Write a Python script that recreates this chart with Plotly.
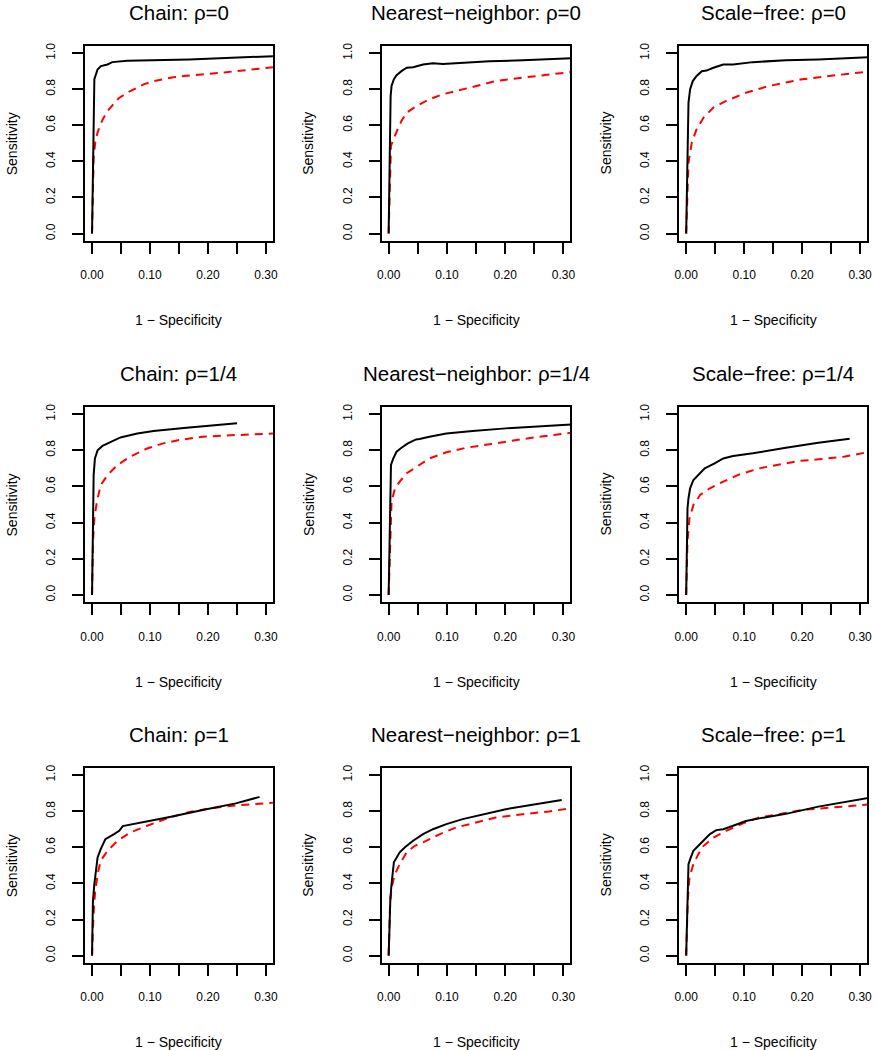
import plotly.graph_objects as go

# ---------------- data (1 - specificity, sensitivity) ----------------
# Row 1: rho = 0
chain0_solid_x = [0, 0.0015, 0.003, 0.004, 0.0095, 0.0153, 0.0266, 0.035, 0.061, 0.168, 0.32]
chain0_solid_y = [0, 0.40, 0.75, 0.855, 0.909, 0.928, 0.937, 0.950, 0.958, 0.965, 0.984]
chain0_dash_x = [0, 0.001, 0.0028, 0.006, 0.0125, 0.018, 0.027, 0.046, 0.066, 0.089, 0.106, 0.14, 0.163, 0.219, 0.32]
chain0_dash_y = [0, 0.20, 0.42, 0.52, 0.59, 0.63, 0.68, 0.75, 0.79, 0.827, 0.845, 0.866, 0.875, 0.89, 0.924]

nn0_solid_x = [0, 0.001, 0.002, 0.0034, 0.005, 0.009, 0.0136, 0.022, 0.031, 0.042, 0.059, 0.076, 0.093, 0.116, 0.173, 0.23, 0.32]
nn0_solid_y = [0, 0.30, 0.60, 0.762, 0.818, 0.855, 0.877, 0.90, 0.919, 0.922, 0.937, 0.944, 0.94, 0.945, 0.955, 0.96, 0.972]
nn0_dash_x = [0, 0.0023, 0.004, 0.008, 0.0136, 0.022, 0.031, 0.048, 0.07, 0.093, 0.116, 0.15, 0.184, 0.23, 0.275, 0.32]
nn0_dash_y = [0, 0.36, 0.486, 0.523, 0.56, 0.624, 0.67, 0.707, 0.744, 0.772, 0.79, 0.818, 0.845, 0.864, 0.882, 0.898]

sf0_solid_x = [0, 0.0011, 0.0028, 0.004, 0.0068, 0.0114, 0.018, 0.027, 0.035, 0.047, 0.064, 0.081, 0.115, 0.172, 0.228, 0.32]
sf0_solid_y = [0, 0.17, 0.54, 0.726, 0.80, 0.845, 0.873, 0.90, 0.903, 0.919, 0.937, 0.937, 0.95, 0.96, 0.965, 0.978]
sf0_dash_x = [0, 0.0023, 0.004, 0.0097, 0.018, 0.03, 0.047, 0.069, 0.103, 0.143, 0.2, 0.257, 0.32]
sf0_dash_y = [0, 0.265, 0.394, 0.505, 0.578, 0.643, 0.698, 0.735, 0.78, 0.818, 0.855, 0.877, 0.90]

# Row 2: rho = 1/4
chain14_solid_x = [0, 0.0015, 0.0028, 0.005, 0.0096, 0.018, 0.032, 0.049, 0.078, 0.106, 0.163, 0.25]
chain14_solid_y = [0, 0.517, 0.664, 0.755, 0.80, 0.824, 0.847, 0.871, 0.893, 0.906, 0.925, 0.95]
chain14_dash_x = [0, 0.0017, 0.004, 0.0085, 0.015, 0.027, 0.044, 0.066, 0.095, 0.123, 0.151, 0.191, 0.248, 0.32]
chain14_dash_y = [0, 0.296, 0.425, 0.517, 0.608, 0.664, 0.719, 0.765, 0.81, 0.838, 0.857, 0.875, 0.884, 0.893]

nn14_solid_x = [0, 0.0015, 0.003, 0.004, 0.008, 0.0136, 0.022, 0.033, 0.047, 0.053, 0.07, 0.099, 0.144, 0.201, 0.32]
nn14_solid_y = [0, 0.35, 0.68, 0.719, 0.755, 0.792, 0.814, 0.838, 0.86, 0.862, 0.875, 0.893, 0.906, 0.921, 0.944]
nn14_dash_x = [0, 0.0023, 0.005, 0.011, 0.019, 0.031, 0.048, 0.07, 0.099, 0.133, 0.173, 0.23, 0.32]
nn14_dash_y = [0, 0.296, 0.517, 0.59, 0.627, 0.673, 0.71, 0.755, 0.789, 0.814, 0.833, 0.862, 0.90]

sf14_solid_x = [0, 0.0023, 0.004, 0.0068, 0.0125, 0.021, 0.032, 0.049, 0.064, 0.081, 0.115, 0.172, 0.228, 0.282]
sf14_solid_y = [0, 0.48, 0.535, 0.59, 0.636, 0.664, 0.70, 0.728, 0.755, 0.768, 0.783, 0.814, 0.842, 0.864]
sf14_dash_x = [0, 0.0023, 0.0057, 0.0125, 0.024, 0.041, 0.064, 0.092, 0.126, 0.16, 0.194, 0.228, 0.274, 0.32]
sf14_dash_y = [0, 0.296, 0.425, 0.498, 0.553, 0.59, 0.627, 0.667, 0.70, 0.722, 0.741, 0.75, 0.765, 0.794]

# Row 3: rho = 1
chain1_solid_x = [0, 0.0015, 0.004, 0.0068, 0.0096, 0.015, 0.023, 0.038, 0.047, 0.053, 0.078, 0.106, 0.134, 0.191, 0.248, 0.289]
chain1_solid_y = [0, 0.30, 0.397, 0.489, 0.544, 0.59, 0.645, 0.673, 0.691, 0.717, 0.732, 0.75, 0.768, 0.806, 0.843, 0.879]
chain1_dash_x = [0, 0.0023, 0.005, 0.0096, 0.015, 0.027, 0.044, 0.066, 0.095, 0.134, 0.168, 0.202, 0.248, 0.32]
chain1_dash_y = [0, 0.213, 0.342, 0.452, 0.526, 0.581, 0.636, 0.682, 0.719, 0.765, 0.795, 0.815, 0.832, 0.848]

nn1_solid_x = [0, 0.0015, 0.003, 0.005, 0.009, 0.019, 0.028, 0.042, 0.059, 0.076, 0.099, 0.127, 0.161, 0.201, 0.252, 0.297]
nn1_solid_y = [0, 0.20, 0.32, 0.397, 0.517, 0.572, 0.60, 0.636, 0.673, 0.70, 0.728, 0.756, 0.783, 0.811, 0.838, 0.862]
nn1_dash_x = [0, 0.0023, 0.005, 0.011, 0.019, 0.031, 0.045, 0.059, 0.088, 0.116, 0.15, 0.184, 0.23, 0.275, 0.32]
nn1_dash_y = [0, 0.268, 0.379, 0.452, 0.507, 0.572, 0.608, 0.627, 0.673, 0.71, 0.737, 0.765, 0.783, 0.798, 0.82]

sf1_solid_x = [0, 0.0023, 0.004, 0.008, 0.0125, 0.021, 0.03, 0.041, 0.052, 0.064, 0.081, 0.103, 0.126, 0.172, 0.228, 0.274, 0.32]
sf1_solid_y = [0, 0.397, 0.507, 0.544, 0.581, 0.608, 0.64, 0.673, 0.695, 0.70, 0.719, 0.745, 0.76, 0.785, 0.825, 0.853, 0.877]
sf1_dash_x = [0, 0.0028, 0.0057, 0.0125, 0.021, 0.03, 0.047, 0.069, 0.098, 0.126, 0.16, 0.2, 0.251, 0.32]
sf1_dash_y = [0, 0.305, 0.434, 0.507, 0.562, 0.608, 0.654, 0.691, 0.733, 0.765, 0.783, 0.807, 0.82, 0.838]

panel_titles = [
    "Chain: ρ=0", "Nearest−neighbor: ρ=0", "Scale−free: ρ=0",
    "Chain: ρ=1/4", "Nearest−neighbor: ρ=1/4", "Scale−free: ρ=1/4",
    "Chain: ρ=1", "Nearest−neighbor: ρ=1", "Scale−free: ρ=1",
]
x_tick_vals = [0, 0.05, 0.10, 0.15, 0.20, 0.25, 0.30]
x_tick_text = ["0.00", "", "0.10", "", "0.20", "", "0.30"]
y_tick_vals = [0, 0.2, 0.4, 0.6, 0.8, 1.0]
y_tick_text = ["0.0", "0.2", "0.4", "0.6", "0.8", "1.0"]
x_label = "1 − Specificity"
y_label = "Sensitivity"

panels = [
    (chain0_solid_x, chain0_solid_y, chain0_dash_x, chain0_dash_y),
    (nn0_solid_x, nn0_solid_y, nn0_dash_x, nn0_dash_y),
    (sf0_solid_x, sf0_solid_y, sf0_dash_x, sf0_dash_y),
    (chain14_solid_x, chain14_solid_y, chain14_dash_x, chain14_dash_y),
    (nn14_solid_x, nn14_solid_y, nn14_dash_x, nn14_dash_y),
    (sf14_solid_x, sf14_solid_y, sf14_dash_x, sf14_dash_y),
    (chain1_solid_x, chain1_solid_y, chain1_dash_x, chain1_dash_y),
    (nn1_solid_x, nn1_solid_y, nn1_dash_x, nn1_dash_y),
    (sf1_solid_x, sf1_solid_y, sf1_dash_x, sf1_dash_y),
]

# ---------------- layout (pixel geometry) ----------------
W, H = 876, 1050
col_px = [(81, 271), (381, 572), (682, 872)]
row_px = [(43, 238.5), (405, 601), (767, 962.6)]
FONT = "Liberation Sans, Arial, Helvetica, sans-serif"

fig = go.Figure()
layout = dict(
    width=W, height=H, margin=dict(l=0, r=0, t=0, b=0),
    paper_bgcolor="white", plot_bgcolor="white", showlegend=False,
    font=dict(family=FONT, color="black", size=12),
)
annotations = []

for i, (sx, sy, dx, dy) in enumerate(panels):
    r, c = divmod(i, 3)
    n = "" if i == 0 else str(i + 1)
    xa, ya = "x" + n, "y" + n
    fig.add_trace(go.Scatter(x=dx, y=dy, mode="lines", xaxis=xa, yaxis=ya,
                             line=dict(color="#ff0000", width=2, dash="8px,6px")))
    fig.add_trace(go.Scatter(x=sx, y=sy, mode="lines", xaxis=xa, yaxis=ya,
                             line=dict(color="black", width=2)))
    l, rr = col_px[c]
    t, b = row_px[r]
    common = dict(showline=True, linecolor="black", linewidth=2, mirror=True,
                  showgrid=False, zeroline=False, ticks="outside", ticklen=11,
                  tickwidth=2, tickcolor="black",
                  tickfont=dict(family=FONT, size=12, color="black"))
    layout["xaxis" + n] = dict(common, domain=[l / W, rr / W], range=[-0.012, 0.312],
                               tickvals=x_tick_vals, ticktext=x_tick_text,
                               ticklabelstandoff=11, anchor=ya, fixedrange=True)
    layout["yaxis" + n] = dict(common, domain=[1 - b / H, 1 - t / H], range=[-0.04, 1.04],
                               tickvals=y_tick_vals, ticktext=y_tick_text,
                               tickangle=-90, ticklabelstandoff=12, anchor=xa, fixedrange=True)
    cx = (l + rr) / 2
    cy = (t + b) / 2
    annotations.append(dict(text=panel_titles[i], x=cx / W, y=1 - (t - 33) / H,
                            xref="paper", yref="paper", showarrow=False,
                            xanchor="center", yanchor="middle",
                            font=dict(family=FONT, size=20.5, color="black")))
    annotations.append(dict(text=x_label, x=cx / W, y=1 - (b + 79.5) / H,
                            xref="paper", yref="paper", showarrow=False,
                            xanchor="center", yanchor="middle",
                            font=dict(family=FONT, size=14, color="black")))
    annotations.append(dict(text=y_label, x=(l - 74) / W, y=1 - cy / H,
                            xref="paper", yref="paper", showarrow=False, textangle=-90,
                            xanchor="center", yanchor="middle",
                            font=dict(family=FONT, size=14, color="black")))

layout["annotations"] = annotations
fig.update_layout(**layout)
fig.write_html("out.html",
               config={"displayModeBar": False, "staticPlot": True},
               post_script="document.body.style.margin='0px';document.body.style.overflow='hidden';")
